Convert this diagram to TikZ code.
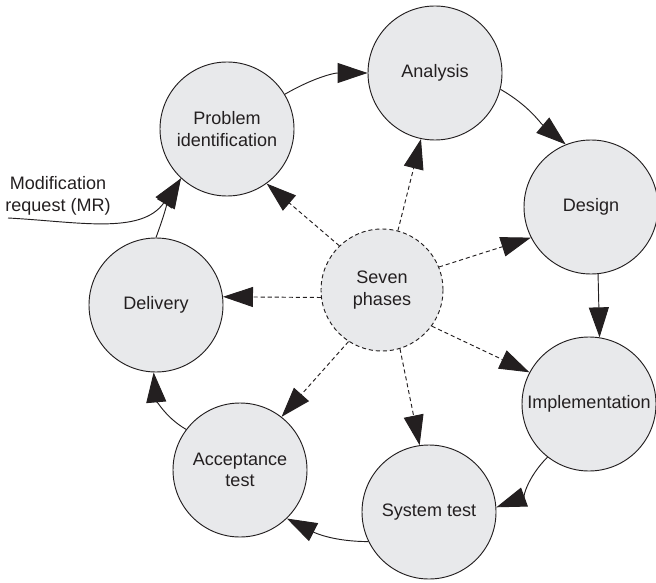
\documentclass[tikz,border=0pt]{standalone}
\usepackage{fontspec}
\setmainfont{Liberation Sans}
\usetikzlibrary{arrows.meta}
\definecolor{phasegray}{RGB}{232,233,235}
\definecolor{inkgray}{RGB}{35,31,32}

\begin{document}
\begin{tikzpicture}[x=0.03cm, y=0.03cm,
  phase/.style={circle, draw=inkgray, fill=phasegray, line width=0.8pt,
    minimum size=4.02cm, inner sep=0pt, align=center, text=inkgray,
    font=\fontsize{15.4}{18.5}\selectfont},
  flow/.style={line width=0.8pt, draw=inkgray, -{Triangle[length=0.9cm, width=0.6cm]}},
  spoke/.style={flow, dash pattern=on 3.5pt off 2.5pt}]

\useasboundingbox (0,0) rectangle (656,582);

\node [phase] (prob) at (227,453) {Problem\\identification};
\node [phase] (ana) at (435,509) {Analysis};
\node [phase] (des) at (591,375) {Design};
\node [phase] (impl) at (589,178) {Implementation};
\node [phase] (sys) at (429,70) {System test};
\node [phase] (acc) at (240,112) {Acceptance\\test};
\node [phase] (del) at (156,277) {Delivery};
\node [phase, dash pattern=on 3.5pt off 2.5pt, minimum size=3.66cm] (seven) at (382,292) {Seven\\phases};

\node [align=center, text=inkgray, font=\fontsize{15.4}{18.5}\selectfont] (mrtext) at (58,386) {Modification\\request (MR)};
\coordinate (mr) at (8,364);

% the cycle
\draw[flow] (prob.31) to[out=30, in=180] (ana.180);
\draw[flow] (ana.-14) to[out=-30, in=140] (des.112);
\draw[flow] (des.-84) -- (impl.81);
\draw[flow] (impl.-128) to[out=-135, in=20] (sys.4);
\draw[flow] (sys.-154) to[out=180, in=-27] (acc.-46);
\draw[flow] (acc.143) to[out=150, in=-85] (del.-92);
\draw[flow] (del.90) to[out=70, in=240] (prob.227);
\draw[flow] (mr) to[out=-3, in=235] (prob.227);

% from the centre
\draw[spoke] (seven.134) -- (prob.-54);
\draw[spoke] (seven.75) -- (ana.-102);
\draw[spoke] (seven.22) -- (des.-153);
\draw[spoke] (seven.-36) -- (impl.152);
\draw[spoke] (seven.-73) -- (sys.98);
\draw[spoke] (seven.-123) -- (acc.52);
\draw[spoke] (seven.187) -- (del.7);

\end{tikzpicture}
\end{document}
